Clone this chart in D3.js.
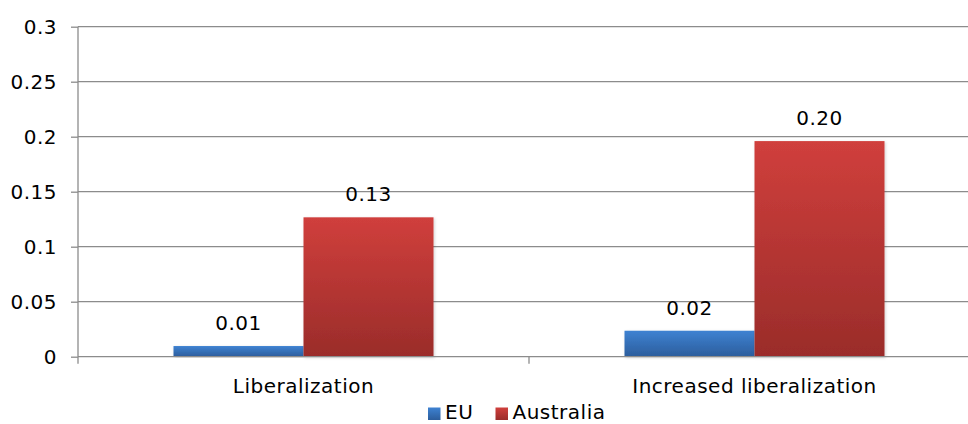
<!DOCTYPE html>
<html>
<head>
<meta charset="utf-8">
<script src="https://cdn.jsdelivr.net/npm/d3@7/dist/d3.min.js"></script>
<style>
  html, body { margin: 0; padding: 0; background: #fff; }
  svg { display: block; font-family: "DejaVu Sans", Verdana, sans-serif; letter-spacing: 0.5px; }
</style>
</head>
<body>
<svg id="chart" width="968" height="424"></svg>
<script>
// Chart data
const categories = ["Liberalization", "Increased liberalization"];
const seriesNames = ["EU", "Australia"];
const euValues = [0.0097, 0.0236];
const australiaValues = [0.1267, 0.196];
const yTicks = [0, 0.05, 0.1, 0.15, 0.2, 0.25, 0.3];

const seriesValues = { "EU": euValues, "Australia": australiaValues };
const seriesColors = {
  "EU": ["#3e82d2", "#2c5d9c"],
  "Australia": ["#d03f3c", "#9a2c2a"]
};

const W = 968, H = 424;
const plotLeft = 78, plotTop = 26.7, plotBottom = 356.7, plotRight = 980;

const svg = d3.select("#chart");
const defs = svg.append("defs");

seriesNames.forEach((s, i) => {
  const g = defs.append("linearGradient")
    .attr("id", "grad" + i)
    .attr("x1", 0).attr("y1", 0).attr("x2", 0).attr("y2", 1);
  g.append("stop").attr("offset", "0%").attr("stop-color", seriesColors[s][0]);
  g.append("stop").attr("offset", "100%").attr("stop-color", seriesColors[s][1]);
});

const shadow = defs.append("filter").attr("id", "soft")
  .attr("x", "-10%").attr("y", "-10%").attr("width", "120%").attr("height", "120%");
shadow.append("feDropShadow")
  .attr("dx", 1).attr("dy", 1).attr("stdDeviation", 1.6)
  .attr("flood-color", "#000").attr("flood-opacity", 0.18);

const y = d3.scaleLinear().domain([0, 0.3]).range([plotBottom, plotTop]);
const x = d3.scaleBand().domain(categories).range([plotLeft, plotRight]).padding(0);
const xs = d3.scaleBand().domain(seriesNames).range([0, x.bandwidth()])
  .paddingInner(0).paddingOuter(0.7346);

// Horizontal gridlines
svg.append("g").selectAll("line")
  .data(yTicks.filter(t => t > 0))
  .join("line")
  .attr("x1", plotLeft).attr("x2", W)
  .attr("y1", d => y(d)).attr("y2", d => y(d))
  .attr("stroke", "#8c8c8c").attr("stroke-width", 1.3);

// Y axis
const yAxis = svg.append("g")
  .attr("transform", `translate(${plotLeft},0)`)
  .call(d3.axisLeft(y).tickValues(yTicks).tickSize(7).tickPadding(14)
    .tickFormat(d => d3.format("")(+d.toFixed(2))));
yAxis.select(".domain").attr("stroke", "#8c8c8c").attr("stroke-width", 1.3)
  .attr("d", `M0,${plotTop}V${plotBottom}`);
yAxis.selectAll(".tick line").attr("stroke", "#8c8c8c").attr("stroke-width", 1.3);
yAxis.selectAll(".tick text").attr("fill", "#000").attr("font-size", 20)
  .attr("font-family", "DejaVu Sans, Verdana, sans-serif");

// Bars
const groups = svg.append("g").selectAll("g")
  .data(categories)
  .join("g")
  .attr("transform", d => `translate(${x(d)},0)`);

seriesNames.forEach((s, si) => {
  groups.append("rect")
    .attr("x", xs(s))
    .attr("width", xs.bandwidth())
    .attr("y", (d, i) => y(seriesValues[s][i]))
    .attr("height", (d, i) => y(0) - y(seriesValues[s][i]))
    .attr("fill", `url(#grad${si})`)
    .attr("filter", "url(#soft)");
});

// X axis (baseline + ticks at category boundaries)
const xAxis = svg.append("g");
xAxis.append("line")
  .attr("x1", plotLeft).attr("x2", W)
  .attr("y1", y(0)).attr("y2", y(0))
  .attr("stroke", "#8c8c8c").attr("stroke-width", 1.3);
const boundaries = categories.map(c => x(c));
xAxis.selectAll("line.tick")
  .data(boundaries)
  .join("line")
  .attr("class", "tick")
  .attr("x1", d => d).attr("x2", d => d)
  .attr("y1", y(0)).attr("y2", y(0) + 7)
  .attr("stroke", "#8c8c8c").attr("stroke-width", 1.3);
xAxis.selectAll("text")
  .data(categories)
  .join("text")
  .attr("x", d => x(d) + x.bandwidth() / 2)
  .attr("y", 393)
  .attr("text-anchor", "middle")
  .attr("font-size", 20)
  .attr("fill", "#000")
  .text(d => d);

// Value labels
const fmt = d3.format(".2f");
seriesNames.forEach(s => {
  groups.append("text")
    .attr("x", xs(s) + xs.bandwidth() / 2)
    .attr("y", (d, i) => y(seriesValues[s][i]) - 16)
    .attr("text-anchor", "middle")
    .attr("font-size", 20)
    .attr("fill", "#000")
    .text((d, i) => fmt(seriesValues[s][i]));
});

// Legend
const legend = svg.append("g");
const legendX = [428, 495.5];
seriesNames.forEach((s, i) => {
  legend.append("rect")
    .attr("x", legendX[i]).attr("y", 407.5)
    .attr("width", 12.5).attr("height", 12.5)
    .attr("fill", `url(#grad${i})`);
  legend.append("text")
    .attr("x", legendX[i] + 17).attr("y", 419)
    .attr("font-size", 20)
    .attr("fill", "#000")
    .text(s);
});
</script>
</body>
</html>
